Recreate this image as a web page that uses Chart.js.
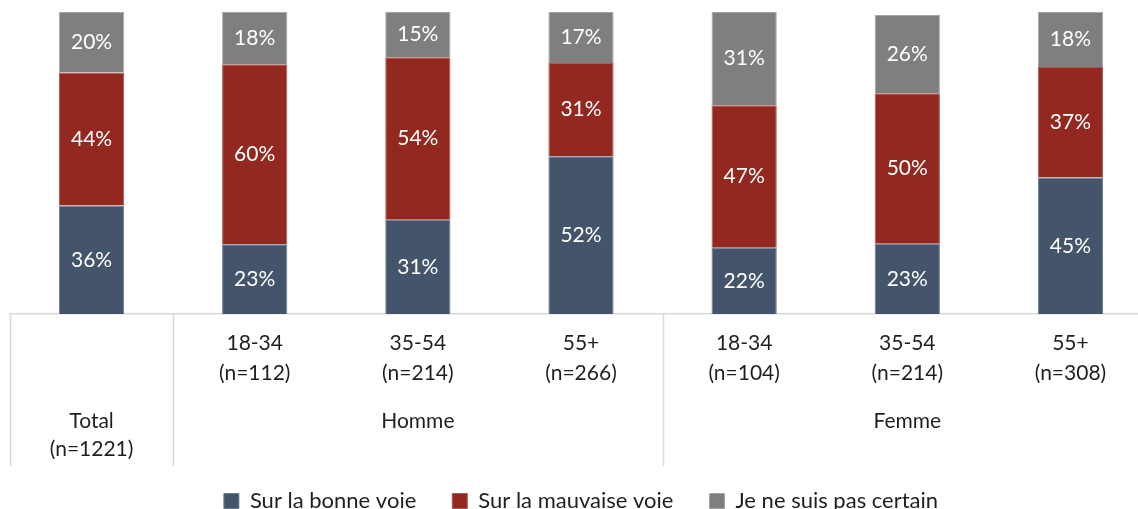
<!DOCTYPE html>
<html>
<head>
<meta charset="utf-8">
<script src="https://cdn.jsdelivr.net/npm/chart.js@4/dist/chart.umd.min.js"></script>
<style>
  html, body { margin: 0; padding: 0; background: #fff; overflow: hidden; }
  #wrap { width: 1162px; height: 522px; }
</style>
</head>
<body>
<div id="wrap"><canvas id="chart" width="1162" height="522"></canvas></div>
<script>
// categories (age / sample size) and the groups they belong to
const ageLabels = [
    ['', ''],
    ['18-34', '(n=112)'],
    ['35-54', '(n=214)'],
    ['55+', '(n=266)'],
    ['18-34', '(n=104)'],
    ['35-54', '(n=214)'],
    ['55+', '(n=308)']
];
const groupLabels = [['Total', '(n=1221)'], ['Homme'], ['Femme']];
const groupStart = [0, 1, 4];
const groupEnd = [0, 3, 6];

// series values (%)
const bonneVoie = [35.9, 23.1, 31.2, 52.2, 21.9, 23.3, 45.2];
const mauvaiseVoie = [44.1, 59.6, 53.8, 30.9, 47.2, 49.8, 36.6];
const pasCertain = [20.0, 17.5, 15.0, 16.9, 30.9, 25.9, 18.2];

const FONT = 'Lato, "Open Sans", sans-serif';
const TEXT = '#1f1f1f';
const LINE = '#d9d9d9';

const segmentLabels = {
    id: 'segmentLabels',
    afterDatasetsDraw(chart) {
        const ctx = chart.ctx;
        ctx.save();
        ctx.font = '21px ' + FONT;
        ctx.fillStyle = '#ffffff';
        ctx.textAlign = 'center';
        ctx.textBaseline = 'middle';
        chart.data.datasets.forEach((ds, i) => {
            chart.getDatasetMeta(i).data.forEach((bar, j) => {
                const v = ds.data[j];
                ctx.fillText(Math.round(v) + '%', bar.x, (bar.y + bar.base) / 2);
            });
        });
        ctx.restore();
    }
};

const groupAxis = {
    id: 'groupAxis',
    afterDraw(chart) {
        const ctx = chart.ctx;
        const x = chart.scales.x;
        const half = x.width / ageLabels.length / 2;
        const top = chart.chartArea.bottom;
        ctx.save();
        ctx.strokeStyle = LINE;
        ctx.lineWidth = 1.5;
        groupStart.forEach(s => {
            const px = Math.round(x.getPixelForValue(s) - half) + 0.5;
            ctx.beginPath();
            ctx.moveTo(px, top);
            ctx.lineTo(px, top + 152);
            ctx.stroke();
        });
        ctx.font = '21px ' + FONT;
        ctx.fillStyle = TEXT;
        ctx.textAlign = 'center';
        ctx.textBaseline = 'middle';
        groupLabels.forEach((lines, g) => {
            const cx = (x.getPixelForValue(groupStart[g]) + x.getPixelForValue(groupEnd[g])) / 2;
            lines.forEach((t, k) => ctx.fillText(t, cx, top + 107 + k * 28));
        });
        ctx.restore();
    }
};

new Chart(document.getElementById('chart').getContext('2d'), {
    type: 'bar',
    data: {
        labels: ageLabels,
        datasets: [
            { label: 'Sur la bonne voie', data: bonneVoie, backgroundColor: '#44546a', borderColor: '#6b7a8e', borderWidth: 1 },
            { label: 'Sur la mauvaise voie', data: mauvaiseVoie, backgroundColor: '#922820', borderColor: '#a85a55', borderWidth: 1 },
            { label: 'Je ne suis pas certain', data: pasCertain, backgroundColor: '#7f7f7f', borderColor: '#a6a6a6', borderWidth: 1 }
        ]
    },
    options: {
        responsive: false,
        animation: false,
        layout: { padding: { left: 10, right: 10, top: 12, bottom: 0 } },
        datasets: { bar: { categoryPercentage: 1, barPercentage: 0.4 } },
        scales: {
            x: {
                stacked: true,
                grid: { display: false, drawTicks: false },
                border: { display: true, color: LINE, width: 1.5 },
                ticks: { color: TEXT, font: { family: FONT, size: 21, lineHeight: 1.4 }, padding: 15, maxRotation: 0, autoSkip: false },
                afterFit(scale) { scale.height = 140; }
            },
            y: { stacked: true, display: false, min: 0, max: 100 }
        },
        plugins: {
            legend: {
                position: 'bottom',
                labels: {
                    color: TEXT,
                    font: { family: FONT, size: 22 },
                    boxWidth: 15,
                    boxHeight: 15,
                    padding: 36
                }
            },
            tooltip: { enabled: false }
        }
    },
    plugins: [segmentLabels, groupAxis]
});
</script>
</body>
</html>
